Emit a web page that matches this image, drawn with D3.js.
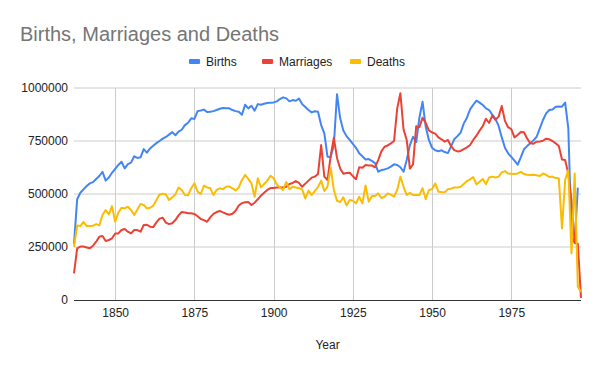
<!DOCTYPE html>
<html>
<head>
<meta charset="utf-8">
<script src="https://cdn.jsdelivr.net/npm/d3@7"></script>
<style>
  body { margin: 0; background: #fff; }
  svg { display: block; font-family: "Liberation Sans", Arial, sans-serif; }
</style>
</head>
<body>
<div id="chart"></div>
<script>
// year range of the series
var firstYear = 1837, lastYear = 1997;
var years = d3.range(firstYear, lastYear + 1);

// values in thousands, one per year from 1837
var births = [
  265, 475, 506, 522, 538, 550, 556, 571, 585, 605,
  563, 578, 600, 619, 637, 652, 621, 641, 648, 678,
  670, 673, 712, 695, 715, 728, 740, 750, 761, 769,
  780, 792, 777, 794, 803, 825, 836, 857, 854, 891,
  894, 898, 887, 888, 891, 896, 902, 906, 904, 904,
  896, 891, 888, 874, 921, 904, 916, 893, 924, 921,
  926, 929, 931, 932, 937, 948, 956, 951, 937, 943,
  940, 950, 924, 910, 896, 885, 890, 888, 825, 786,
  676, 675, 730, 971, 857, 799, 773, 755, 736, 718,
  692, 678, 663, 665, 656, 646, 605, 613, 616, 621,
  629, 640, 637, 626, 605, 660, 731, 770, 745, 860,
  935, 817, 755, 718, 706, 702, 706, 698, 693, 725,
  758, 773, 789, 832, 860, 899, 921, 940, 931, 920,
  904, 896, 874, 854, 821, 767, 718, 692, 675, 657,
  638, 673, 711, 726, 739, 753, 770, 810, 849, 880,
  896, 899, 912, 913, 912, 931, 810, 300, 270, 530,
  null
];

var marriages = [
  126, 244, 252, 252, 248, 244, 256, 275, 299, 302,
  278, 283, 291, 314, 314, 330, 335, 322, 314, 330,
  330, 322, 354, 355, 346, 344, 366, 384, 388, 365,
  358, 362, 377, 399, 415, 413, 409, 409, 406, 395,
  382, 377, 369, 390, 406, 415, 420, 413, 407, 402,
  407, 421, 446, 457, 461, 462, 448, 459, 475, 492,
  506, 519, 528, 528, 531, 531, 531, 534, 547, 552,
  561, 553, 534, 549, 563, 577, 582, 594, 731, 582,
  566, 680, 765, 670, 620, 596, 599, 600, 584, 570,
  626, 624, 637, 634, 635, 626, 660, 701, 723, 729,
  739, 750, 904, 975, 805, 755, 620, 640, 820, 815,
  860, 835, 800, 790, 785, 767, 758, 747, 755, 726,
  707, 701, 703, 712, 720, 731, 755, 775, 799, 820,
  855, 835, 870, 850, 865, 915, 845, 815, 806, 767,
  778, 792, 791, 762, 739, 737, 747, 748, 751, 761,
  758, 750, 739, 726, 663, 660, 595, 470, 270, 265,
  10
];

var deaths = [
  250, 352, 349, 368, 349, 349, 350, 358, 352, 401,
  424, 404, 443, 369, 412, 435, 432, 440, 424, 401,
  427, 453, 448, 432, 435, 445, 472, 498, 501, 498,
  472, 484, 498, 531, 519, 495, 494, 527, 550, 511,
  500, 539, 531, 528, 495, 519, 527, 523, 534, 536,
  527, 517, 531, 566, 590, 571, 550, 487, 574, 531,
  547, 563, 586, 574, 545, 531, 519, 557, 522, 534,
  531, 527, 522, 479, 516, 495, 514, 533, 563, 514,
  535, 625, 519, 468, 462, 484, 446, 472, 468, 456,
  487, 456, 540, 464, 490, 490, 503, 481, 487, 503,
  497, 487, 519, 582, 534, 495, 506, 495, 495, 495,
  527, 475, 519, 522, 550, 511, 509, 508, 523, 525,
  531, 531, 534, 547, 561, 569, 580, 545, 558, 571,
  547, 578, 582, 578, 582, 602, 608, 597, 596, 594,
  597, 604, 594, 591, 590, 591, 588, 585, 597, 590,
  580, 582, 575, 574, 338, 566, 613, 220, 597, 63,
  39
];

var seriesNames = ["Births", "Marriages", "Deaths"];
var seriesColors = ["#4285f4", "#ea4335", "#fbbc04"];
var xTicks = [1850, 1875, 1900, 1925, 1950, 1975];
var yTicks = [0, 250000, 500000, 750000, 1000000];

var width = 600, height = 371;
var margin = { top: 88, right: 19, bottom: 71, left: 74 };

var svg = d3.select("#chart")
  .append("svg")
    .attr("width", width)
    .attr("height", height);

var x = d3.scaleLinear()
  .domain([firstYear, lastYear])
  .range([margin.left, width - margin.right]);

var y = d3.scaleLinear()
  .domain([0, 1000000])
  .range([height - margin.bottom, margin.top]);

// title
svg.append("text")
  .attr("x", 20)
  .attr("y", 41)
  .attr("fill", "#757575")
  .style("font-size", "20px")
  .text("Births, Marriages and Deaths");

// gridlines
svg.append("g")
  .selectAll("line")
  .data(yTicks.slice(1))
  .enter()
  .append("line")
    .attr("x1", margin.left)
    .attr("x2", width - margin.right)
    .attr("y1", d => y(d))
    .attr("y2", d => y(d))
    .attr("stroke", "#cccccc");

svg.append("g")
  .selectAll("line")
  .data(xTicks)
  .enter()
  .append("line")
    .attr("x1", d => Math.round(x(d)) + 0.5)
    .attr("x2", d => Math.round(x(d)) + 0.5)
    .attr("y1", margin.top)
    .attr("y2", height - margin.bottom)
    .attr("stroke", "#cccccc");

// axes (labels only, Google style)
var yAxis = svg.append("g")
  .attr("transform", `translate(${margin.left},0)`)
  .call(d3.axisLeft(y).tickValues(yTicks).tickFormat(d3.format("d")).tickSize(0).tickPadding(6));
yAxis.select(".domain").remove();
yAxis.selectAll("text")
  .attr("fill", "#222")
  .style("font-size", "12px")
  .style("font-family", "Liberation Sans, Arial, sans-serif");

var xAxis = svg.append("g")
  .attr("transform", `translate(0,${height - margin.bottom})`)
  .call(d3.axisBottom(x).tickValues(xTicks).tickFormat(d3.format("d")).tickSize(0).tickPadding(8));
xAxis.select(".domain").remove();
xAxis.selectAll("text")
  .attr("fill", "#222")
  .style("font-size", "12px")
  .style("font-family", "Liberation Sans, Arial, sans-serif");

// lines
var line = d3.line()
  .defined(d => d.v != null)
  .x(d => x(d.year))
  .y(d => y(d.v * 1000));

[births, marriages, deaths].forEach(function(values, i) {
  var pts = years.map((yr, k) => ({ year: yr, v: values[k] }));
  svg.append("path")
    .datum(pts)
    .attr("fill", "none")
    .attr("stroke", seriesColors[i])
    .attr("stroke-width", 2)
    .attr("stroke-linejoin", "round")
    .attr("d", line);
});

// baseline
svg.append("line")
  .attr("x1", margin.left)
  .attr("x2", width - margin.right)
  .attr("y1", y(0) + 0.5)
  .attr("y2", y(0) + 0.5)
  .attr("stroke", "#333");

// x axis title
svg.append("text")
  .attr("x", (margin.left + width - margin.right) / 2)
  .attr("y", 349)
  .attr("text-anchor", "middle")
  .attr("fill", "#222")
  .style("font-size", "12px")
  .text("Year");

// legend
var legendX = [189, 262, 350];
var legend = svg.append("g");
seriesNames.forEach(function(name, i) {
  legend.append("rect")
    .attr("x", legendX[i])
    .attr("y", 59)
    .attr("width", 11)
    .attr("height", 5)
    .attr("rx", 1)
    .attr("fill", seriesColors[i]);
  legend.append("text")
    .attr("x", legendX[i] + 17)
    .attr("y", 65.5)
    .attr("fill", "#222")
    .style("font-size", "12px")
    .text(name);
});
</script>
</body>
</html>
